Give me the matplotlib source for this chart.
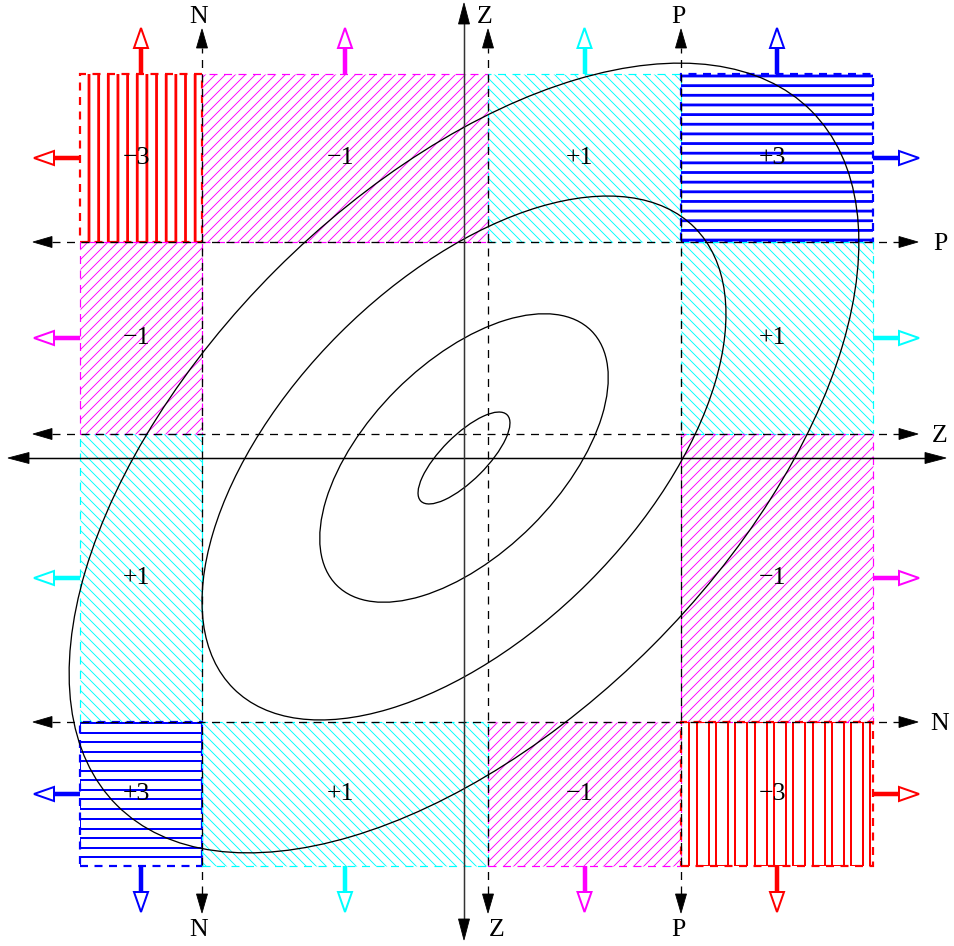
import numpy as np
import matplotlib.pyplot as plt
from matplotlib.patches import Rectangle, Ellipse, Polygon

# cell boundaries (origin at the crossing of the solid axes)
col_edges = [-384, -262, 24, 217, 409]
row_edges = [384, 216, 24, -264, -408]

# value of each cell, top row first (0 = empty)
cell_values = [[-3, -1, 1, 3],
               [-1, 0, 0, 1],
               [1, 0, 0, -1],
               [3, 1, -1, -3]]

# dashed threshold lines and their names
vline_names = ['N', 'Z', 'P']
hline_names = ['P', 'Z', 'N']

# concentric ellipses, full axis lengths, tilted 45 degrees
ellipse_major = [122, 360, 652, 982]
ellipse_minor = [45, 192, 352, 532]

colours = {-3: '#ff0000', -1: '#ff00ff', 1: '#00ffff', 3: '#0000ff'}

DPI = 120
PX = 72 / DPI  # one pixel in points

plt.rcParams['font.family'] = ['Liberation Serif', 'DejaVu Serif']
plt.rcParams['hatch.linewidth'] = 0.55
plt.rcParams['lines.scale_dashes'] = False

fig = plt.figure(figsize=(954 / DPI, 946 / DPI), dpi=DPI)
ax = fig.add_axes([0, 0, 1, 1])
ax.set_xlim(-464, 490)
ax.set_ylim(-488, 458)
ax.axis('off')

dash = (0, (8 * PX, 6.5 * PX))


def black_head(tx, ty, dx, dy, length=19, half=5.5):
    bx, by = tx - dx * length, ty - dy * length
    pts = [(tx, ty), (bx - dy * half, by + dx * half), (bx + dy * half, by - dx * half)]
    ax.add_patch(Polygon(pts, closed=True, fc='black', ec='black', lw=0.5, zorder=6))


def hollow_arrow(x, y, dx, dy, c, total=46, head=20, half=7):
    sx, sy = x + dx * (total - head), y + dy * (total - head)
    ax.plot([x, sx + dx], [y, sy + dy], color=c, lw=4.5 * PX, solid_capstyle='butt', zorder=5)
    tx, ty = x + dx * total, y + dy * total
    pts = [(tx, ty), (sx - dy * half, sy + dx * half), (sx + dy * half, sy - dx * half)]
    ax.add_patch(Polygon(pts, closed=True, fc='white', ec=c, lw=2 * PX, zorder=5))


# shaded cells
for i, row in enumerate(cell_values):
    for j, v in enumerate(row):
        if v == 0:
            continue
        x0, x1 = col_edges[j], col_edges[j + 1]
        y1, y0 = row_edges[i], row_edges[i + 1]
        c = colours[v]
        if abs(v) == 1:
            hatch = '////' if v < 0 else '\\\\\\\\'
            ax.add_patch(Rectangle((x0, y0), x1 - x0, y1 - y0, fill=False, hatch=hatch,
                                   edgecolor=c, lw=1.2 * PX, linestyle=dash, zorder=1))
        else:
            box = Rectangle((x0, y0), x1 - x0, y1 - y0, fill=False, edgecolor=c,
                            lw=2.2 * PX, linestyle=dash, zorder=1)
            ax.add_patch(box)
            if v == -3 and i == 0:
                xs = np.arange(x0 + 9, x1, 9.65)
                ax.vlines(xs, y0, y1, color=c, lw=2.8 * PX, zorder=1, snap=False)
            elif v == 3 and i == 0:
                ys = np.arange(y1 - 2, y0, -9.65)
                ax.hlines(ys, x0, x1, color=c, lw=2.8 * PX, zorder=1, snap=False)
            elif v == -3:
                for s in np.arange(x0 - 3.6, x1, 19.3):
                    bar = Rectangle((s, y0), 12, y1 - y0, fill=False, ec=c, lw=2 * PX, zorder=1)
                    ax.add_patch(bar)
                    bar.set_clip_path(box)
            else:
                for t in np.arange(y1 - 0.7, y0, -19.2):
                    bar = Rectangle((x0, t - 10), x1 - x0, 10, fill=False, ec=c, lw=2 * PX, zorder=1)
                    ax.add_patch(bar)
                    bar.set_clip_path(box)

        # outward arrows on the outer cells
        if i == 0:
            hollow_arrow((x0 + x1) / 2, y1, 0, 1, c)
        if i == 3:
            hollow_arrow((x0 + x1) / 2, y0, 0, -1, c)
        if j == 0:
            hollow_arrow(x0, (y0 + y1) / 2, -1, 0, c)
        if j == 3:
            hollow_arrow(x1, (y0 + y1) / 2, 1, 0, c)

        label = f'{v:+d}'.replace('-', '\u2212')
        ax.text((x0 + x1) / 2 - 5, (y0 + y1) / 2, label, ha='center', va='center',
                fontsize=15.5, zorder=7)

# ellipses
for w, h in zip(ellipse_major, ellipse_minor):
    ax.add_patch(Ellipse((0, 0), w, h, angle=45, fill=False, ec='black', lw=1.3 * PX, zorder=3))

# dashed threshold lines
for x, name in zip(col_edges[1:4], vline_names):
    ax.plot([x, x], [-436, 410], color='black', lw=1.3 * PX, linestyle=dash, zorder=2)
    black_head(x, 429, 0, 1)
    black_head(x, -455, 0, -1)
    ax.text(x - 3, 441, name, ha='center', va='center', fontsize=15.5)
    ax.text(x + (9 if name == 'Z' else -3), -472, name, ha='center', va='center', fontsize=15.5)

for y, name in zip(row_edges[1:4], hline_names):
    ax.plot([-412, 435], [y, y], color='black', lw=1.3 * PX, linestyle=dash, zorder=2)
    black_head(-431, y, -1, 0)
    black_head(454, y, 1, 0)
    ax.text(476, y - 2, name, ha='center', va='center', fontsize=15.5)

# solid axes
ax.plot([-440, 466], [0, 0], color='black', lw=1.5 * PX, zorder=4)
ax.plot([0, 0], [-465, 438], color='#333333', lw=1.5 * PX, zorder=4)
black_head(-456, 0, -1, 0, length=21, half=5.5)
black_head(482, 0, 1, 0, length=21, half=5.5)
black_head(0, 455, 0, 1, length=21, half=5.5)
black_head(0, -482, 0, -1, length=21, half=5.5)

fig.savefig('out.png', dpi=DPI)
